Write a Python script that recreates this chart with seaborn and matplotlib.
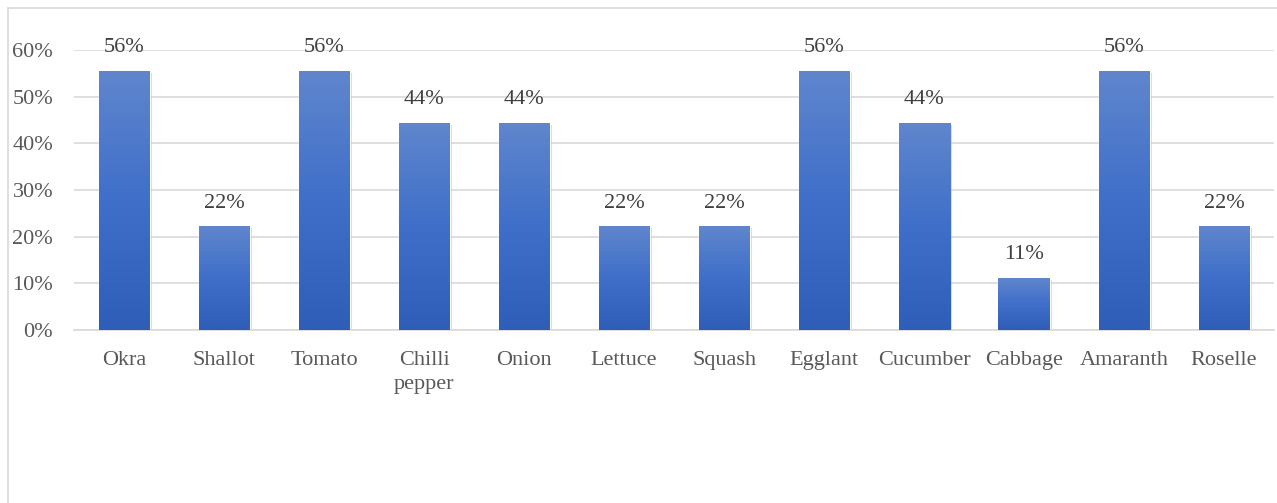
import matplotlib
matplotlib.use("Agg")
import matplotlib.pyplot as plt
import matplotlib.patheffects as pe
from matplotlib.ticker import PercentFormatter
from matplotlib.colors import LinearSegmentedColormap
from matplotlib.lines import Line2D
import numpy as np
import pandas as pd
import seaborn as sns

categories = ["Okra", "Shallot", "Tomato", "Chilli\npepper", "Onion", "Lettuce",
              "Squash", "Egglant", "Cucumber", "Cabbage", "Amaranth", "Roselle"]
values = [0.556, 0.222, 0.556, 0.444, 0.444, 0.222,
          0.222, 0.556, 0.444, 0.111, 0.556, 0.222]

df = pd.DataFrame({"crop": categories, "share": values})

sns.set_theme(style="white")
plt.rcParams["font.family"] = ["Liberation Serif", "DejaVu Serif"]

W, H = 1277, 503
fig = plt.figure(figsize=(W / 100, H / 100), dpi=100)
ax = fig.add_axes([74 / W, (H - 330) / H, 1200 / W, 280 / H])

sns.barplot(data=df, x="crop", y="share", color="#3A68C0", width=0.51,
            ax=ax, zorder=2, saturation=1)

ax.set_ylim(0, 0.6)
ax.set_xlim(-0.5, len(categories) - 0.5)
ax.yaxis.set_major_formatter(PercentFormatter(1.0, decimals=0))
ax.set_yticks(np.arange(0, 0.61, 0.1))
ax.grid(axis="y", color="#D9D9D9", linewidth=1.2, zorder=0)
ax.set_axisbelow(True)
for s in ["top", "right", "left"]:
    ax.spines[s].set_visible(False)
ax.spines["bottom"].set_color("#D9D9D9")
ax.spines["bottom"].set_linewidth(1.2)
ax.set_xlabel("")
ax.set_ylabel("")
ax.tick_params(axis="both", length=0, labelsize=16, colors="#595959")
ax.tick_params(axis="x", pad=15)
ax.tick_params(axis="y", pad=15)
for lab in ax.get_xticklabels():
    lab.set_linespacing(1.35)

cmap = LinearSegmentedColormap.from_list("g", ["#2E5EB8", "#3F6FC9", "#6086CD"])
grad = np.linspace(0, 1, 256).reshape(-1, 1)
for p in ax.patches:
    x0, y0 = p.get_x(), p.get_y()
    w, h = p.get_width(), p.get_height()
    p.set_path_effects([pe.SimplePatchShadow(offset=(1.5, -1.5), shadow_rgbFace="#888888", alpha=0.35),
                        pe.Normal()])
    im = ax.imshow(grad, cmap=cmap, extent=(x0, x0 + w, y0, y0 + h),
                   origin="lower", aspect="auto", zorder=3, interpolation="bicubic")
    im.set_clip_path(p)

ax.set_ylim(0, 0.6)
ax.set_xlim(-0.5, len(categories) - 0.5)

for i, v in enumerate(values):
    ax.annotate(f"{v * 100:.0f}%", (i, v), xytext=(0, 10), textcoords="offset points",
                ha="center", va="bottom", fontsize=16, color="#404040", zorder=5)

fig.add_artist(Line2D([8 / W, 8 / W], [0, (H - 8) / H], color="#D9D9D9", linewidth=1.2,
                      transform=fig.transFigure))
fig.add_artist(Line2D([8 / W, 1], [(H - 8) / H, (H - 8) / H], color="#D9D9D9", linewidth=1.2,
                      transform=fig.transFigure))

fig.savefig("out.png", dpi=100, facecolor="white")
